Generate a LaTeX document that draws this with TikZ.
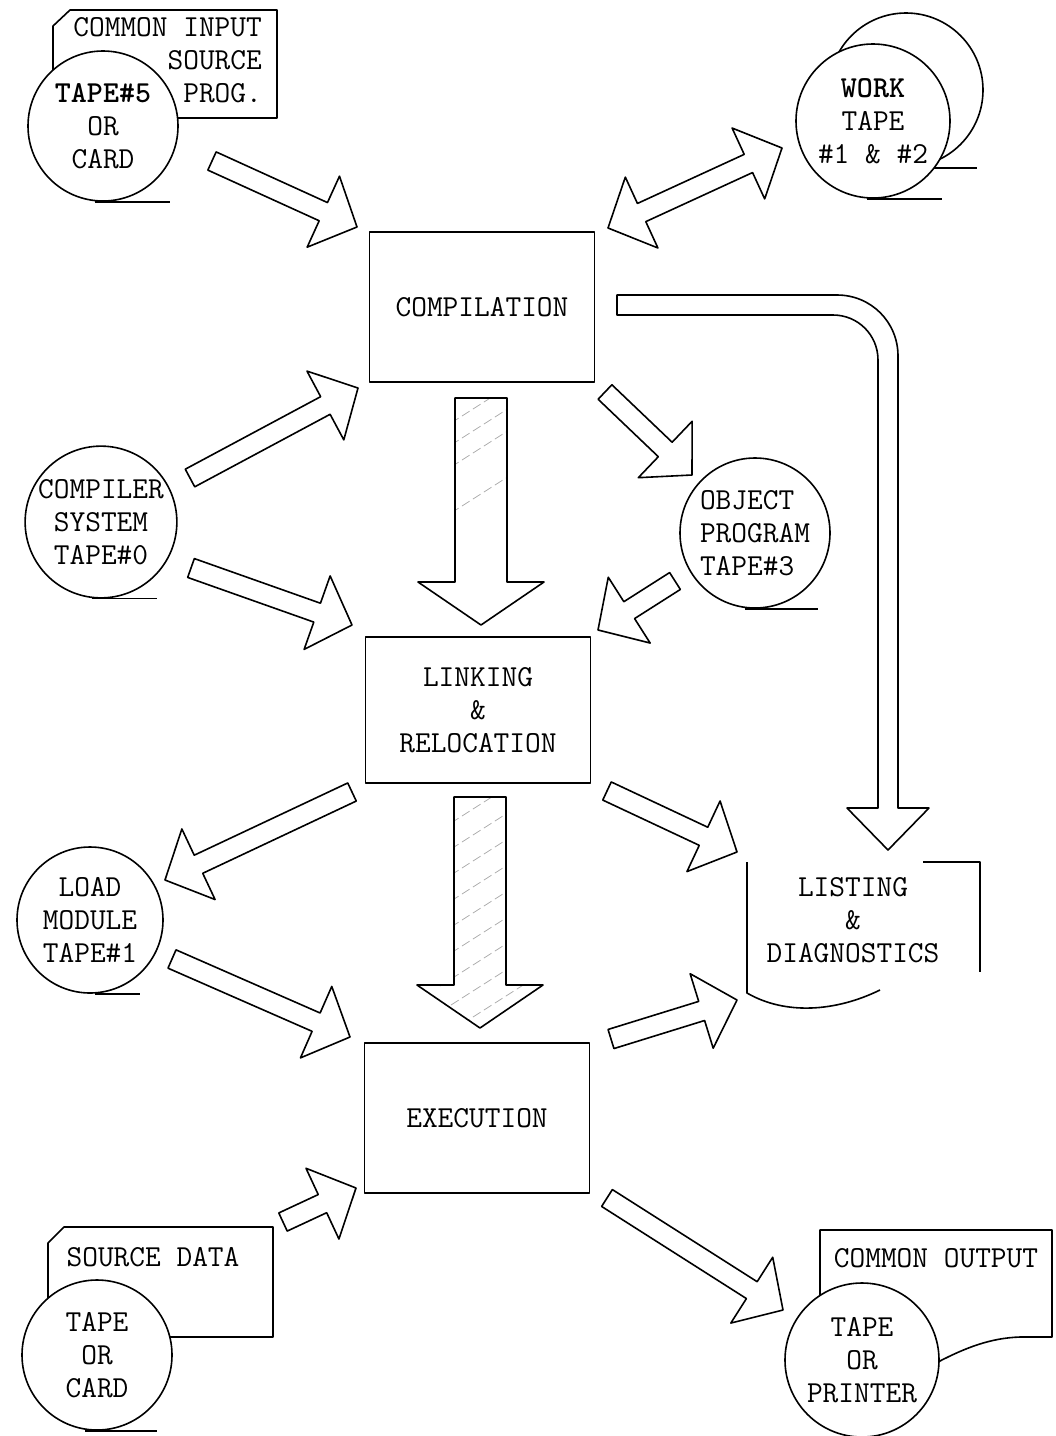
\documentclass[tikz,border=0pt]{standalone}
\usepackage{fontspec}
\usetikzlibrary{positioning,calc}

% block arrow sizes: shaft half width, head half width, head length
\newcommand{\arrw}{10pt}
\newcommand{\arrh}{39pt}
\newcommand{\arrl}{37pt}

% \blkarrow[opts]{name}{tail}{tip}
\newcommand{\blkarrow}[4][]{%
  \path ($(#4)!\arrl!(#3)$) coordinate (#2-b);
  \draw[blk,#1] ($(#3)!\arrw!90:(#4)$) -- ($(#2-b)!\arrw!90:(#4)$)
    -- ($(#2-b)!\arrh!90:(#4)$) -- (#4) -- ($(#2-b)!\arrh!-90:(#4)$)
    -- ($(#2-b)!\arrw!-90:(#4)$) -- ($(#3)!\arrw!-90:(#4)$) -- cycle;}

% \blkdarrow[opts]{name}{tip a}{tip b}
\newcommand{\blkdarrow}[4][]{%
  \path ($(#3)!\arrl!(#4)$) coordinate (#2-a) ($(#4)!\arrl!(#3)$) coordinate (#2-b);
  \draw[blk,#1] (#3) -- ($(#2-a)!\arrh!90:(#4)$) -- ($(#2-a)!\arrw!90:(#4)$)
    -- ($(#2-b)!\arrw!-90:(#3)$) -- ($(#2-b)!\arrh!-90:(#3)$) -- (#4)
    -- ($(#2-b)!\arrh!90:(#3)$) -- ($(#2-b)!\arrw!90:(#3)$)
    -- ($(#2-a)!\arrw!-90:(#4)$) -- ($(#2-a)!\arrh!-90:(#4)$) -- cycle;}

\begin{document}
\begin{tikzpicture}[
        x=1pt, y=-1pt,
        font=\ttfamily\fontsize{30.5}{33}\selectfont,
        line width=1.6pt, line join=round,
        blk/.style={draw},
        proc/.style={rectangle, draw, align=center, minimum width=225, minimum height=150},
        tape/.style={circle, draw, fill=white, align=center, inner sep=0pt, minimum size=150},
        hatch/.style={gray!70, line width=0.7pt, dash pattern=on 9pt off 4pt},
    ]
        \useasboundingbox[fill=white] (0,0) rectangle (1056,1436);

        % input deck
        \draw (53,118) -- (53,26) -- (70,10) -- (277,10) -- (277,118) -- cycle;
        \node[align=right, anchor=east] (srclbl) at (266,60) {COMMON INPUT\\SOURCE\\PROG.};
        \node[tape] (src) at (103,126) {\textbf{TAPE\#5}\\OR\\CARD};
        \draw ([xshift=-8]src.south) -- ++(75,0);

        % work tapes
        \node[tape, minimum size=154] (work2) at (906,90) {};
        \draw (work2.south) -- ++(71,0);
        \node[tape, minimum size=154] (work1) at (873,121) {\textbf{WORK}\\TAPE\\\#1 \& \#2};
        \draw ([xshift=-6]work1.south) -- ++(75,0);

        % main steps
        \node[proc] (comp) at (482,307) {COMPILATION};
        \node[proc, minimum height=146] (link) at (478,710) {LINKING\\\&\\RELOCATION};
        \node[proc] (exec) at (477,1118) {EXECUTION};

        % other tapes
        \node[tape] (sys) at (101,522) {COMPILER\\SYSTEM\\TAPE\#0};
        \draw ([xshift=-9]sys.south) -- ++(65,0);
        \node[tape, align=left] (obj) at (755,533) {OBJECT\\PROGRAM\\TAPE\#3};
        \draw ([xshift=-10]obj.south) -- ++(73,0);
        \node[tape, minimum size=146] (load) at (90,920) {LOAD\\MODULE\\TAPE\#1};
        \draw ([xshift=5]load.south) -- ++(45,0);

        % source data
        \draw (48,1337) -- (48,1243) -- (64,1227) -- (273,1227) -- (273,1337) -- cycle;
        \node (datalbl) at (153,1257) {SOURCE DATA};
        \node[tape] (data) at (97,1355) {TAPE\\OR\\CARD};
        \draw ([xshift=-12]data.south) -- ++(72,0);

        % common output
        \draw (820,1330) -- (820,1230) -- (1052,1230) -- (1052,1337) -- (1020,1337)
            .. controls (990,1338) and (965,1348) .. (938,1362);
        \node (outlbl) at (936,1258) {COMMON OUTPUT};
        \node[tape, minimum size=154] (out) at (862,1360) {TAPE\\OR\\PRINTER};
        \draw ([xshift=-12]out.south) -- ++(77,0);

        % listing
        \draw (747,862) -- (747,993) .. controls (785,1015) and (835,1012) .. (880,990);
        \draw (923,862) -- (980,862) -- (980,972);
        \node[align=center] (list) at (853,920) {LISTING\\\&\\DIAGNOSTICS};

        % arrow ends
        \coordinate (src-t) at (212,161);  \coordinate (src-h) at (357,227);
        \coordinate (sysa-t) at (190,478); \coordinate (sysa-h) at (358,388);
        \coordinate (sysb-t) at (191,568); \coordinate (sysb-h) at (352,625);
        \coordinate (load-t) at (352,792); \coordinate (load-h) at (165,880);
        \coordinate (lexe-t) at (172,959); \coordinate (lexe-h) at (350,1037);
        \coordinate (data-t) at (283,1222); \coordinate (data-h) at (356,1188);
        \coordinate (work-a) at (608,228); \coordinate (work-b) at (782,148);
        \coordinate (obja-t) at (605,392); \coordinate (obja-h) at (692,475);
        \coordinate (objb-t) at (675,581); \coordinate (objb-h) at (598,630);
        \coordinate (lsta-t) at (607,791); \coordinate (lsta-h) at (737,852);
        \coordinate (lstb-t) at (611,1039); \coordinate (lstb-h) at (737,1000);
        \coordinate (outp-t) at (607,1198); \coordinate (outp-h) at (783,1310);
        \coordinate (cl-t) at (481,398);   \coordinate (cl-h) at (481,625);
        \coordinate (le-t) at (480,797);   \coordinate (le-h) at (480,1028);

        \blkarrow{a1}{src-t}{src-h}
        \blkarrow{a2}{sysa-t}{sysa-h}
        \blkarrow{a3}{sysb-t}{sysb-h}
        \blkarrow{a4}{load-t}{load-h}
        \blkarrow{a5}{lexe-t}{lexe-h}
        \blkarrow{a6}{data-t}{data-h}
        \blkdarrow[]{a7}{work-a}{work-b}
        \blkarrow{a8}{obja-t}{obja-h}
        \blkarrow{a9}{objb-t}{objb-h}
        \blkarrow{a11}{lsta-t}{lsta-h}
        \blkarrow{a12}{lstb-t}{lstb-h}
        \blkarrow{a13}{outp-t}{outp-h}

        % bent arrow to listing
        \draw (617,295) -- (837,295) .. controls (871,295) and (898,322) .. (898,356)
            -- (898,808) -- (929,808) -- (888,850) -- (847,808) -- (878,808)
            -- (878,360) .. controls (878,335) and (858,315) .. (833,315) -- (617,315) -- cycle;

        % hatched arrows
        \begin{scope}
            \clip (455,398) rectangle (507,582);
            \foreach \y in {430,452,474,520}
                \draw[hatch] (440,\y) -- ++(110,-70);
        \end{scope}
        \begin{scope}
            \clip (455,797) rectangle (505,985) (418,985) -- (543,985) -- (480,1028) -- cycle;
            \foreach \y in {830,856,...,1060}
                \draw[hatch] (440,\y) -- ++(110,-70);
        \end{scope}
        {\renewcommand{\arrw}{26pt}\renewcommand{\arrh}{63pt}\renewcommand{\arrl}{43pt}
        \blkarrow{a14}{cl-t}{cl-h}
        \blkarrow{a15}{le-t}{le-h}}
    \end{tikzpicture}
\end{document}
